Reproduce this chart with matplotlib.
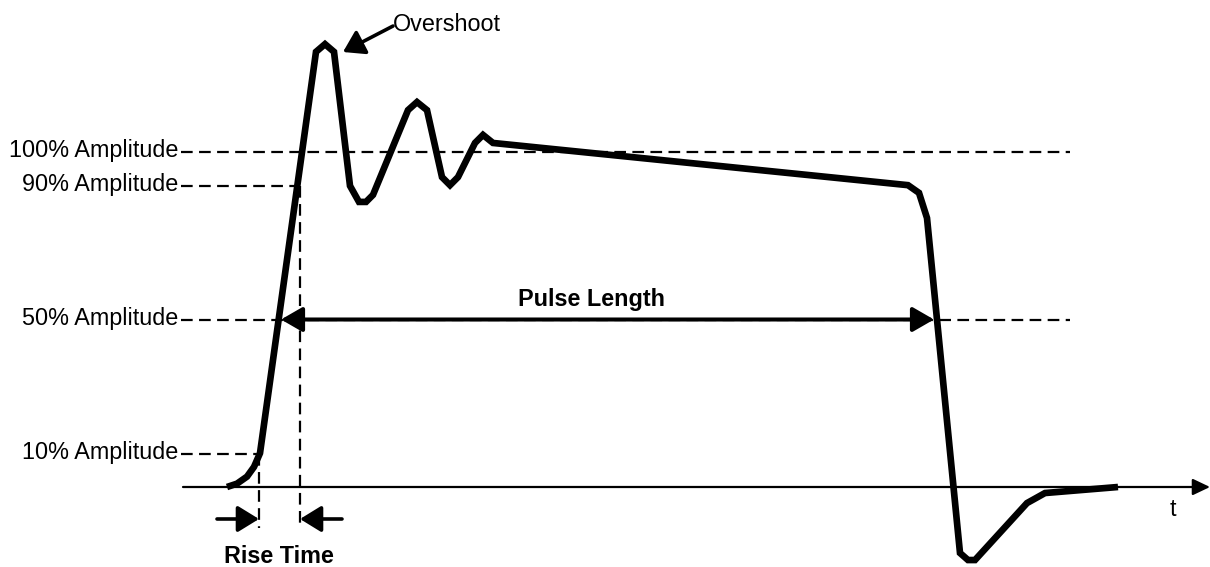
import matplotlib
matplotlib.use('Agg')
import matplotlib.pyplot as plt
from matplotlib.patches import FancyArrowPatch

plt.rcParams['font.family'] = ['Liberation Sans', 'DejaVu Sans']
plt.rcParams['lines.scale_dashes'] = False

# ---- data: pulse waveform (time in arbitrary units, normalized amplitude) ----
time = [227, 237, 247, 254, 260, 316, 325, 334, 350, 359, 366, 373, 408, 417,
        427, 442, 450, 458, 475, 483, 493, 908, 919, 927, 960, 968, 975, 1027,
        1045, 1118]
amplitude = [0.000, 0.010, 0.031, 0.060, 0.101, 1.299, 1.322, 1.299, 0.899,
             0.851, 0.851, 0.872, 1.125, 1.149, 1.125, 0.925, 0.901, 0.925,
             1.027, 1.051, 1.027, 0.901, 0.878, 0.803, -0.197, -0.218, -0.218,
             -0.048, -0.018, 0.000]

level_labels = ['100% Amplitude', '90% Amplitude', '50% Amplitude', '10% Amplitude']
level_values = [1.0, 0.9, 0.5, 0.1]
level_ends = [1070, 300, 1070, 259]

t_10 = 259        # 10% crossing on rise
t_90 = 300        # 90% crossing on rise
t_50_rise = 281   # 50% crossing on rise
t_50_fall = 934   # 50% crossing on fall
overshoot_tip = (343, 1.2985)

FS = 16.8
DASH = (8.4, 4.6)
DLW = 1.6
ALW = 2.6

fig = plt.figure(figsize=(12.1, 5.67), dpi=100)
ax = fig.add_axes([0, 0, 1, 1])
ax.set_xlim(0, 1210)
ax.set_ylim(-80 / 335, 487 / 335)
ax.axis('off')

# time axis
ax.add_patch(FancyArrowPatch((183, 0), (1210, 0),
                             arrowstyle='-|>,head_length=10.5,head_width=5',
                             mutation_scale=1, lw=1.6, color='black',
                             shrinkA=0, shrinkB=0))
ax.text(1173, -0.0866, 't', ha='center', va='baseline', fontsize=FS)

# amplitude levels
for lab, v, xe in zip(level_labels, level_values, level_ends):
    ax.plot([181, xe], [v, v], color='black', lw=DLW, dashes=DASH)
    ax.text(178, v - 0.015, lab, ha='right', va='baseline', fontsize=FS)

# rise time markers
y_bottom = -0.1224
ax.plot([t_10, t_10], [0.1, y_bottom], color='black', lw=DLW, dashes=DASH)
ax.plot([t_90, t_90], [0.9, y_bottom], color='black', lw=DLW, dashes=DASH)
y_rt = -0.0955
ax.add_patch(FancyArrowPatch((217, y_rt), (t_10, y_rt),
                             arrowstyle='-|>,head_length=13,head_width=8',
                             mutation_scale=1, lw=ALW, color='black',
                             shrinkA=0, shrinkB=0))
ax.add_patch(FancyArrowPatch((342, y_rt), (t_90, y_rt),
                             arrowstyle='-|>,head_length=13,head_width=8',
                             mutation_scale=1, lw=ALW, color='black',
                             shrinkA=0, shrinkB=0))
ax.text(279, -0.227, 'Rise Time', ha='center', va='baseline',
        fontsize=FS, fontweight='bold')

# pulse length
ax.add_patch(FancyArrowPatch((t_50_rise, 0.5), (t_50_fall, 0.5),
                             arrowstyle='<|-|>,head_length=13,head_width=7.5',
                             mutation_scale=1, lw=2.9, color='black',
                             shrinkA=0, shrinkB=0, zorder=4))
ax.text(591, 0.54, 'Pulse Length', ha='center', va='baseline',
        fontsize=FS, fontweight='bold')

# overshoot annotation
ax.add_patch(FancyArrowPatch((393, 1.376), overshoot_tip,
                             arrowstyle='-|>,head_length=12.5,head_width=8',
                             mutation_scale=1, lw=ALW, color='black',
                             shrinkA=0, shrinkB=0))
ax.text(393, 1.361, 'Overshoot', ha='left', va='baseline', fontsize=FS)

# waveform
ax.plot(time, amplitude, color='black', lw=4.8, solid_joinstyle='miter',
        solid_capstyle='butt', zorder=5)

fig.savefig('out.png', dpi=100)
